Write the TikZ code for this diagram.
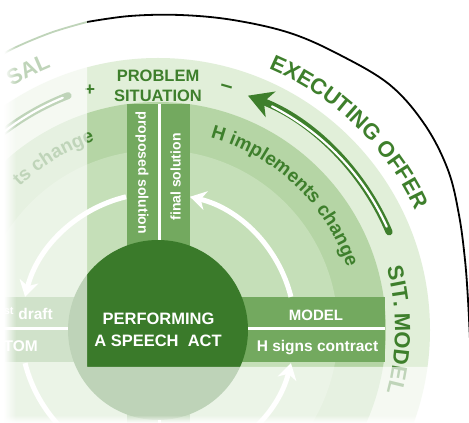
\documentclass[tikz,border=0pt]{standalone}
\usepackage{fontspec}
\setmainfont{Liberation Sans}
\usetikzlibrary{arrows.meta,decorations.text,fadings}
\definecolor{dkg}{HTML}{3E7F2C}
\definecolor{ctr}{HTML}{3A7A2A}
\definecolor{barg}{HTML}{73A95F}
\definecolor{rA}{HTML}{C5DFB8}
\definecolor{rB}{HTML}{B5D5A5}
\definecolor{rC}{HTML}{E1EFD9}
\tikzfading[name=fadeL, left color=transparent!0, right color=transparent!100]
\tikzfading[name=fadeB, bottom color=transparent!0, top color=transparent!100]
\tikzset{
  whitearc/.style={white, line width=5, -{Stealth[length=16pt,width=19pt,inset=5pt]}},
  bartext/.style={text=white, font=\bfseries\fontsize{15.5}{15.5}\selectfont, inner sep=0pt},
  vtext/.style={text=white, font=\bfseries\fontsize{14}{14}\selectfont, inner sep=0pt},
  ctext/.style={text=white, font=\bfseries\fontsize{16.5}{16.5}\selectfont, inner sep=0pt},
  gtext/.style={text=dkg, font=\bfseries\fontsize{16.5}{16.5}\selectfont, inner sep=0pt},
}
\begin{document}
\begin{tikzpicture}[x=1pt,y=1pt]
\useasboundingbox (0,0) rectangle (469,423);
\begin{scope}
\clip (0,0) rectangle (469,423);
\fill[white] (0,0) rectangle (469,423);
\coordinate (C) at (158,93);
% rings
\fill[rC] (C) circle[radius=272];
\fill[rB] (C) circle[radius=228];
\fill[rA] (C) circle[radius=180];
% cross arms
\fill[barg] (127,93) rectangle (190,319);
\fill[barg] (127,-150) rectangle (190,93);
\fill[barg] (158,61) rectangle (385,126);
\fill[barg] (-80,61) rectangle (158,126);
\draw[white, line width=3] (159,-150) -- (159,319);
\draw[white, line width=3] (-80,94) -- (385,94);
% centre circle
\fill[ctr] (C) circle[radius=90];
% outer arc
\draw[black, line width=1.8] plot[smooth, tension=0.6] coordinates {(87,401) (130,407) (180,408) (233,403) (290,390) (340,368) (390,338) (425,298) (448,253) (459,208) (465,163) (468,123) (470,83)};
\draw[dkg, line width=1.8] plot[smooth, tension=0.6] coordinates {(-5,362) (10,373) (50,390) (87,401)};
% white circular arrows
\draw[whitearc] (C) ++(14:137) arc[start angle=14, end angle=76.5, radius=137];
\draw[whitearc] (C) ++(103.5:137) arc[start angle=103.5, end angle=166, radius=137];
\draw[whitearc] (C) ++(194:137) arc[start angle=194, end angle=256.5, radius=137];
\draw[whitearc] (C) ++(283.5:137) arc[start angle=283.5, end angle=346, radius=137];
% double arrows
\draw[dkg, line width=7, line cap=round, -{Stealth[length=24pt,width=27pt,inset=7pt]}] (C) ++(23:251) arc[start angle=23, end angle=69, radius=251];
\draw[white, line width=2.2, line cap=round] (C) ++(24.3:251) arc[start angle=24.3, end angle=63, radius=251];
\draw[dkg, line width=7, line cap=round, -{Stealth[length=24pt,width=27pt,inset=7pt]}] (C) ++(111:251) arc[start angle=111, end angle=165, radius=251];
\draw[white, line width=2.2, line cap=round] (C) ++(112.3:251) arc[start angle=112.3, end angle=160, radius=251];
% arc texts
\path[decorate, decoration={text along path, text align=center,
  text={|\fontsize{22}{22}\selectfont\bfseries\color{dkg}|EXECUTING OFFER}}]
  (C) ++(96:284) arc[start angle=96, end angle=-4, radius=284];
\path[decorate, decoration={text along path, text align=center,
  text={|\fontsize{22}{22}\selectfont\bfseries\color{dkg}|SAL}}]
  (C) ++(131.5:284) arc[start angle=131.5, end angle=101.5, radius=284];
\path[decorate, decoration={text along path, text align=center,
  text={|\fontsize{22}{22}\selectfont\bfseries\color{dkg}|SIT. MODEL}}]
  (C) ++(30:237) arc[start angle=30, end angle=-30, radius=237];
\path[decorate, decoration={text along path, text align=center,
  text={|\fontsize{19}{19}\selectfont\bfseries\color{dkg}|H implements change}}]
  (C) ++(96.5:199) arc[start angle=96.5, end angle=-3.5, radius=199];
\path[decorate, decoration={text along path, text align=right,
  text={|\fontsize{19}{19}\selectfont\bfseries\color{dkg}|ts change}}]
  (C) ++(175:199) arc[start angle=175, end angle=108.5, radius=199];
% straight texts
\node[gtext, anchor=base] (prob) at (158,341) {PROBLEM};
\node[gtext, anchor=base] (sit) at (158,321) {SITUATION};
\node[gtext, font=\bfseries\fontsize{18}{18}\selectfont] (plus) at (90,333) {+};
\node[gtext, font=\bfseries\fontsize{22}{22}\selectfont, rotate=-16] (minus) at (226,334) {--};
\node[vtext, rotate=-90] (prop) at (142,250) {proposed solution};
\node[vtext, rotate=90] (fin) at (175.5,246) {final solution};
\node[ctext, anchor=base] (perf) at (158.5,98) {PERFORMING};
\node[ctext, anchor=base] (spa) at (158,76) {A SPEECH\ \ ACT};
\node[bartext, font=\bfseries\fontsize{15}{15}\selectfont, anchor=base] (model) at (316,102) {MODEL};
\node[bartext, anchor=base] (signs) at (317.5,71) {H signs contract};
\node[bartext, anchor=base east] (draft) at (53,103) {\textsuperscript{st} draft};
\node[bartext, anchor=base east] (tom) at (38,71) {TOM};
% veil
\fill[white, opacity=0.67] (0,0) -- (0,423) -- (87,423) -- (87,56) -- (469,56) -- (469,0) -- cycle;
\fill[white] (0,0) rectangle (4,423);
\fill[white, path fading=fadeL] (4,0) rectangle (16,423);
\fill[white, path fading=fadeB] (0,0) rectangle (469,8);
\end{scope}
\end{tikzpicture}
\end{document}
